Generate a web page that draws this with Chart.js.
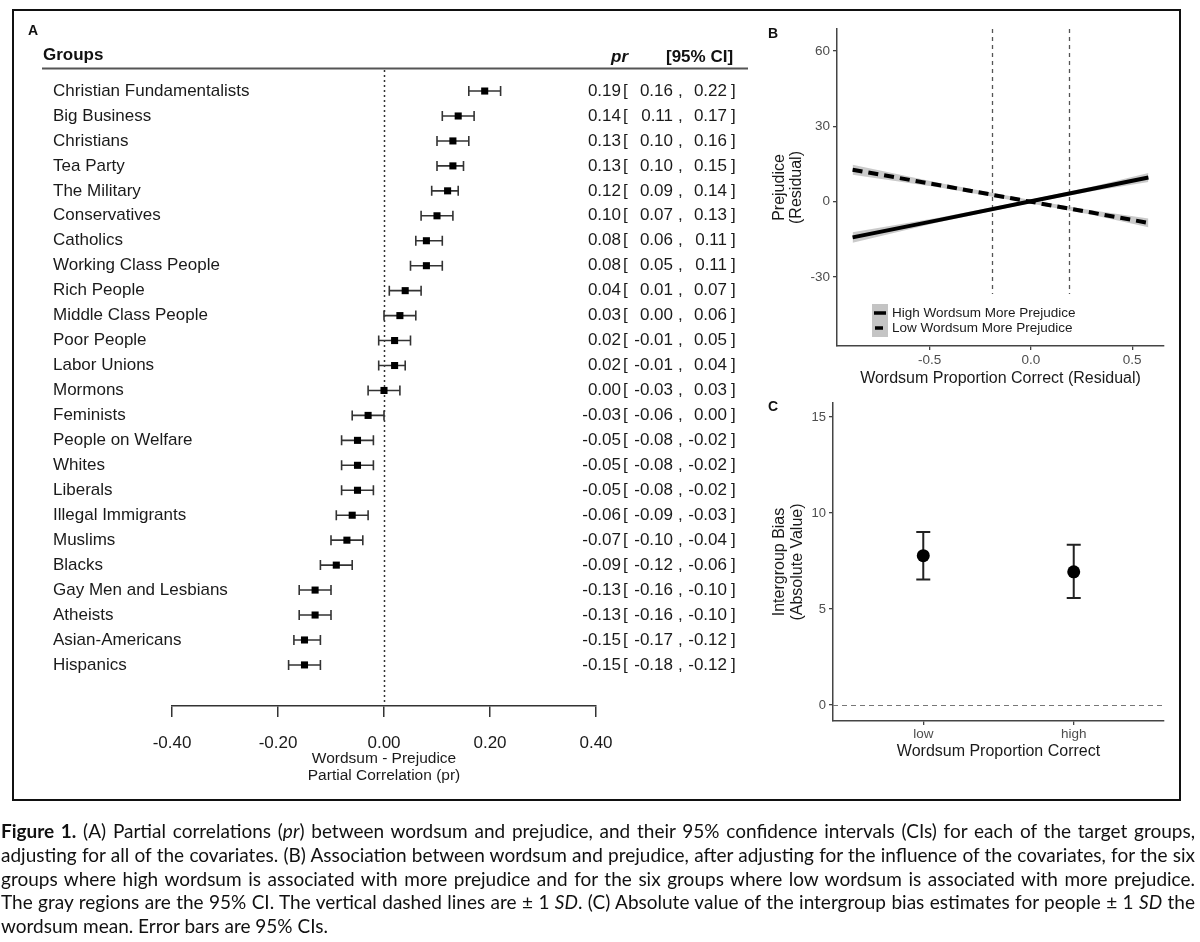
<!DOCTYPE html>
<html>
<head>
<meta charset="utf-8">
<script src="https://cdn.jsdelivr.net/npm/chart.js@4.4.1/dist/chart.umd.min.js"></script>
<style>
  html, body { margin: 0; padding: 0; background: #fff; }
  body { width: 1200px; height: 942px; position: relative; overflow: hidden; }
  #frame { position: absolute; left: 12px; top: 9px; width: 1169px; height: 792px; border: 2px solid #111; box-sizing: border-box; }
  canvas { position: absolute; left: 0; top: 0; }
  #caption { position: absolute; left: 1px; top: 819px; width: 1194px; font-family: Lato, "Open Sans", sans-serif; font-size: 19px; color: #111; }
  #caption div { white-space: nowrap; height: 23.75px; line-height: 23.75px; }
  #caption span { display: inline-block; }
</style>
</head>
<body>
<div id="frame"></div>
<canvas id="panelA" width="1200" height="942"></canvas>
<canvas id="panelB" width="1200" height="942"></canvas>
<canvas id="panelC" width="1200" height="942"></canvas>
<div id="caption">
  <div><span><b>Figure 1.</b> (A) Partial correlations (<i>pr</i>) between wordsum and prejudice, and their 95% confidence intervals (CIs) for each of the target groups,</span></div>
  <div><span>adjusting for all of the covariates. (B) Association between wordsum and prejudice, after adjusting for the influence of the covariates, for the six</span></div>
  <div><span>groups where high wordsum is associated with more prejudice and for the six groups where low wordsum is associated with more prejudice.</span></div>
  <div><span>The gray regions are the 95% CI. The vertical dashed lines are ± 1 <i>SD</i>. (C) Absolute value of the intergroup bias estimates for people ± 1 <i>SD</i> the</span></div>
  <div><span>wordsum mean. Error bars are 95% CIs.</span></div>
</div>
<script>
// ---- panel A: partial correlations by group
const groups = ['Christian Fundamentalists', 'Big Business', 'Christians', 'Tea Party', 'The Military',
  'Conservatives', 'Catholics', 'Working Class People', 'Rich People', 'Middle Class People',
  'Poor People', 'Labor Unions', 'Mormons', 'Feminists', 'People on Welfare', 'Whites', 'Liberals',
  'Illegal Immigrants', 'Muslims', 'Blacks', 'Gay Men and Lesbians', 'Atheists', 'Asian-Americans', 'Hispanics'];
const pr = [0.19, 0.14, 0.13, 0.13, 0.12, 0.10, 0.08, 0.08, 0.04, 0.03, 0.02, 0.02, 0.00,
  -0.03, -0.05, -0.05, -0.05, -0.06, -0.07, -0.09, -0.13, -0.13, -0.15, -0.15];
const ciLow = [0.16, 0.11, 0.10, 0.10, 0.09, 0.07, 0.06, 0.05, 0.01, 0.00, -0.01, -0.01, -0.03,
  -0.06, -0.08, -0.08, -0.08, -0.09, -0.10, -0.12, -0.16, -0.16, -0.17, -0.18];
const ciHigh = [0.22, 0.17, 0.16, 0.15, 0.14, 0.13, 0.11, 0.11, 0.07, 0.06, 0.05, 0.04, 0.03,
  0.00, -0.02, -0.02, -0.02, -0.03, -0.04, -0.06, -0.10, -0.10, -0.12, -0.12];
const prTicks = [-0.4, -0.2, 0, 0.2, 0.4];

// ---- panel B: fitted lines with 95% bands
const residX = [-0.88, -0.45, 0, 0.3, 0.58];
const highLine = [-14.3, -7.3, 0.1, 5.0, 9.6];
const highUpper = [-12.2, -6.4, 0.8, 5.9, 11.4];
const highLower = [-16.4, -8.2, -0.6, 4.1, 7.8];
const lowLine = [12.7, 6.5, -0.1, -4.4, -8.5];
const lowUpper = [14.7, 7.4, 0.6, -3.5, -6.8];
const lowLower = [10.7, 5.6, -0.8, -5.3, -10.2];
const sdLines = [-0.19, 0.19];
const bXTicks = [-0.5, 0, 0.5];
const bYTicks = [-30, 0, 30, 60];

// ---- panel C: intergroup bias
const cLevels = ['low', 'high'];
const cBias = [7.78, 6.94];
const cLow = [6.54, 5.57];
const cHigh = [9.01, 8.35];
const cYTicks = [0, 5, 10, 15];

const SANS = '"Liberation Sans", Arial, Helvetica, sans-serif';
Chart.defaults.font.family = SANS;
Chart.defaults.color = '#1a1a1a';
Chart.defaults.plugins.legend.display = false;
Chart.defaults.plugins.tooltip.enabled = false;

const xy = (xs, ys) => xs.map((x, i) => ({ x: x, y: ys[i] }));

// ---------- Panel A ----------
const forestDecor = {
  id: 'forestDecor',
  beforeDatasetsDraw(chart) {
    const { ctx, chartArea, scales: { x, y } } = chart;
    ctx.save();
    const x0 = Math.round(x.getPixelForValue(0)) + 0.5;
    ctx.strokeStyle = '#333';
    ctx.lineWidth = 1.5;
    ctx.setLineDash([2, 3]);
    ctx.beginPath();
    ctx.moveTo(x0, chartArea.top);
    ctx.lineTo(x0, chartArea.bottom);
    ctx.stroke();
    ctx.setLineDash([]);
    ctx.lineWidth = 1.6;
    groups.forEach((g, i) => {
      const py = y.getPixelForValue(i);
      const a = x.getPixelForValue(ciLow[i]);
      const b = x.getPixelForValue(ciHigh[i]);
      ctx.beginPath();
      ctx.moveTo(a, py); ctx.lineTo(b, py);
      ctx.moveTo(a, py - 5); ctx.lineTo(a, py + 5);
      ctx.moveTo(b, py - 5); ctx.lineTo(b, py + 5);
      ctx.stroke();
    });
    ctx.restore();
  },
  afterDraw(chart) {
    const { ctx, scales: { y } } = chart;
    ctx.save();
    ctx.fillStyle = '#111';
    ctx.textBaseline = 'middle';
    ctx.font = 'bold 14px ' + SANS;
    ctx.fillText('A', 28, 31);
    ctx.font = 'bold 17px ' + SANS;
    ctx.fillText('Groups', 43, 55);
    ctx.textAlign = 'right';
    ctx.font = 'italic bold 17px ' + SANS;
    ctx.fillText('pr', 628, 57);
    ctx.textAlign = 'left';
    ctx.font = 'bold 17px ' + SANS;
    ctx.fillText('[95% CI]', 666, 57);
    ctx.strokeStyle = '#555';
    ctx.lineWidth = 2;
    ctx.beginPath();
    ctx.moveTo(42, 68.5); ctx.lineTo(748, 68.5);
    ctx.stroke();

    ctx.font = '17px ' + SANS;
    ctx.fillStyle = '#1a1a1a';
    groups.forEach((g, i) => {
      const py = y.getPixelForValue(i);
      ctx.textAlign = 'left';
      ctx.fillText(g, 53, py);
      ctx.fillText('[', 623, py);
      ctx.fillText(',', 678, py);
      ctx.fillText(']', 731, py);
      ctx.textAlign = 'right';
      ctx.fillText(pr[i].toFixed(2), 621, py);
      ctx.fillText(ciLow[i].toFixed(2), 673, py);
      ctx.fillText(ciHigh[i].toFixed(2), 727, py);
    });
    ctx.restore();
  }
};

new Chart(document.getElementById('panelA'), {
  type: 'scatter',
  data: {
    datasets: [{
      data: pr.map((v, i) => ({ x: v, y: i })),
      pointStyle: 'rect',
      pointRadius: 5,
      backgroundColor: '#000',
      borderColor: '#000',
      borderWidth: 0
    }]
  },
  options: {
    responsive: false,
    animation: false,
    devicePixelRatio: 1,
    layout: { padding: { left: 172, right: 604, top: 70, bottom: 144 } },
    scales: {
      x: {
        min: -0.4, max: 0.4,
        afterBuildTicks: s => { s.ticks = prTicks.map(v => ({ value: v })); },
        afterFit: s => { s.height = 92; },
        border: { display: true, color: '#333', width: 1.5 },
        grid: { drawOnChartArea: false, drawTicks: true, tickLength: 11, color: '#333', lineWidth: 1.5 },
        ticks: { callback: v => v.toFixed(2), font: { size: 17 }, color: '#1a1a1a', padding: 16, maxRotation: 0 },
        title: {
          display: true,
          text: ['Wordsum - Prejudice', 'Partial Correlation (pr)'],
          font: { size: 15.5, lineHeight: 1.15 },
          color: '#1a1a1a',
          padding: { top: 0, bottom: 13 }
        }
      },
      y: { display: false, reverse: true, min: -0.843, max: 24.646 }
    }
  },
  plugins: [forestDecor]
});

// ---------- Panel B ----------
const slopeDecor = {
  id: 'slopeDecor',
  beforeDatasetsDraw(chart) {
    const { ctx, chartArea, scales: { x } } = chart;
    ctx.save();
    ctx.strokeStyle = '#555';
    ctx.lineWidth = 1.3;
    ctx.setLineDash([4, 4]);
    sdLines.forEach(v => {
      const px = Math.round(x.getPixelForValue(v)) + 0.5;
      ctx.beginPath();
      ctx.moveTo(px, chartArea.top);
      ctx.lineTo(px, chartArea.bottom - 52);
      ctx.stroke();
    });
    ctx.restore();
  },
  afterDraw(chart) {
    const { ctx, chartArea } = chart;
    const lx = chartArea.left + 35, ly = chartArea.bottom - 42;
    ctx.save();
    ctx.fillStyle = '#c4c4c4';
    ctx.fillRect(lx, ly, 16, 33);
    ctx.strokeStyle = '#000';
    ctx.lineWidth = 3.5;
    ctx.beginPath();
    ctx.moveTo(lx + 2, ly + 9); ctx.lineTo(lx + 14, ly + 9);
    ctx.moveTo(lx + 3, ly + 24); ctx.lineTo(lx + 11, ly + 24);
    ctx.stroke();
    ctx.fillStyle = '#1a1a1a';
    ctx.font = '13.5px ' + SANS;
    ctx.textBaseline = 'middle';
    ctx.fillText('High Wordsum More Prejudice', lx + 20, ly + 9);
    ctx.fillText('Low Wordsum More Prejudice', lx + 20, ly + 24);
    ctx.font = 'bold 14px ' + SANS;
    ctx.fillStyle = '#111';
    ctx.fillText('B', 768, 34);
    ctx.restore();
  }
};

new Chart(document.getElementById('panelB'), {
  type: 'scatter',
  data: {
    datasets: [
      { data: xy(residX, highLine), showLine: true, pointRadius: 0, borderColor: '#000', borderWidth: 4 },
      { data: xy(residX, lowLine), showLine: true, pointRadius: 0, borderColor: '#000', borderWidth: 4, borderDash: [10, 6] },
      { data: xy(residX, highUpper), showLine: true, pointRadius: 0, borderWidth: 0, borderColor: 'rgba(0,0,0,0)', backgroundColor: 'rgba(150,150,150,0.5)', fill: '+1' },
      { data: xy(residX, highLower), showLine: true, pointRadius: 0, borderWidth: 0, borderColor: 'rgba(0,0,0,0)' },
      { data: xy(residX, lowUpper), showLine: true, pointRadius: 0, borderWidth: 0, borderColor: 'rgba(0,0,0,0)', backgroundColor: 'rgba(150,150,150,0.5)', fill: '+1' },
      { data: xy(residX, lowLower), showLine: true, pointRadius: 0, borderWidth: 0, borderColor: 'rgba(0,0,0,0)' }
    ]
  },
  options: {
    responsive: false,
    animation: false,
    devicePixelRatio: 1,
    layout: { padding: { left: 760, right: 36, top: 29, bottom: 547 } },
    scales: {
      x: {
        min: -0.957, max: 0.657,
        afterBuildTicks: s => { s.ticks = bXTicks.map(v => ({ value: v })); },
        afterFit: s => { s.height = 49; },
        border: { display: true, color: '#444', width: 1.5 },
        grid: { drawOnChartArea: false, drawTicks: true, tickLength: 4, color: '#444', lineWidth: 1.3 },
        ticks: { callback: v => v.toFixed(1), font: { size: 13.5 }, color: '#4d4d4d', padding: 2.5, maxRotation: 0 },
        title: { display: true, text: 'Wordsum Proportion Correct (Residual)', font: { size: 16 }, color: '#1a1a1a', padding: { top: 0, bottom: 7 } }
      },
      y: {
        min: -57.6, max: 68.8,
        afterBuildTicks: s => { s.ticks = bYTicks.map(v => ({ value: v })); },
        afterFit: s => { s.width = 77; },
        border: { display: true, color: '#444', width: 1.5 },
        grid: { drawOnChartArea: false, drawTicks: true, tickLength: 4, color: '#444', lineWidth: 1.3 },
        ticks: { callback: v => String(v), font: { size: 13.5 }, color: '#4d4d4d', padding: 3 },
        title: { display: true, text: ['Prejudice', '(Residual)'], font: { size: 16, lineHeight: 1.05 }, color: '#1a1a1a', padding: { top: 11, bottom: 0 } }
      }
    }
  },
  plugins: [slopeDecor]
});

// ---------- Panel C ----------
const biasDecor = {
  id: 'biasDecor',
  beforeDatasetsDraw(chart) {
    const { ctx, chartArea, scales: { x, y } } = chart;
    ctx.save();
    const py = Math.round(y.getPixelForValue(0)) + 0.5;
    ctx.strokeStyle = '#777';
    ctx.lineWidth = 1.1;
    ctx.setLineDash([5, 4]);
    ctx.beginPath();
    ctx.moveTo(chartArea.left, py); ctx.lineTo(chartArea.right, py);
    ctx.stroke();
    ctx.setLineDash([]);
    ctx.strokeStyle = '#222';
    ctx.lineWidth = 2;
    cBias.forEach((b, i) => {
      const px = x.getPixelForValue(i + 1);
      const t = y.getPixelForValue(cHigh[i]);
      const u = y.getPixelForValue(cLow[i]);
      ctx.beginPath();
      ctx.moveTo(px, t); ctx.lineTo(px, u);
      ctx.moveTo(px - 7, t); ctx.lineTo(px + 7, t);
      ctx.moveTo(px - 7, u); ctx.lineTo(px + 7, u);
      ctx.stroke();
    });
    ctx.restore();
  },
  afterDraw(chart) {
    const { ctx } = chart;
    ctx.save();
    ctx.font = 'bold 14px ' + SANS;
    ctx.fillStyle = '#111';
    ctx.textBaseline = 'middle';
    ctx.fillText('C', 768, 407);
    ctx.restore();
  }
};

new Chart(document.getElementById('panelC'), {
  type: 'scatter',
  data: {
    datasets: [{
      data: cBias.map((v, i) => ({ x: i + 1, y: v })),
      pointRadius: 6.5,
      backgroundColor: '#000',
      borderColor: '#000',
      borderWidth: 0
    }]
  },
  options: {
    responsive: false,
    animation: false,
    devicePixelRatio: 1,
    layout: { padding: { left: 760, right: 36, top: 403, bottom: 177 } },
    scales: {
      x: {
        min: 0.4, max: 2.6,
        afterBuildTicks: s => { s.ticks = cLevels.map((l, i) => ({ value: i + 1 })); },
        afterFit: s => { s.height = 44; },
        border: { display: true, color: '#444', width: 1.5 },
        grid: { drawOnChartArea: false, drawTicks: true, tickLength: 4, color: '#444', lineWidth: 1.3 },
        ticks: { callback: v => cLevels[v - 1], font: { size: 13.5 }, color: '#4d4d4d', padding: 1, maxRotation: 0 },
        title: { display: true, text: 'Wordsum Proportion Correct', font: { size: 16 }, color: '#1a1a1a', padding: { top: 0, bottom: 3.5 } }
      },
      y: {
        min: -0.83, max: 15.73,
        afterBuildTicks: s => { s.ticks = cYTicks.map(v => ({ value: v })); },
        afterFit: s => { s.width = 73; },
        border: { display: true, color: '#444', width: 1.5 },
        grid: { drawOnChartArea: false, drawTicks: true, tickLength: 4, color: '#444', lineWidth: 1.3 },
        ticks: { callback: v => String(v), font: { size: 13 }, color: '#4d4d4d', padding: 3 },
        title: { display: true, text: ['Intergroup Bias', '(Absolute Value)'], font: { size: 16, lineHeight: 1.1 }, color: '#1a1a1a', padding: { top: 11, bottom: 0 } }
      }
    }
  },
  plugins: [biasDecor]
});

// stretch caption lines to the full width, like the justified print layout
const lines = document.querySelectorAll('#caption div');
lines.forEach((line, i) => {
  if (i === lines.length - 1) return;
  const span = line.querySelector('span');
  const w = span.getBoundingClientRect().width;
  const gaps = (span.textContent.match(/ /g) || []).length;
  line.style.wordSpacing = ((1194 - w) / gaps) + 'px';
});
</script>
</body>
</html>
